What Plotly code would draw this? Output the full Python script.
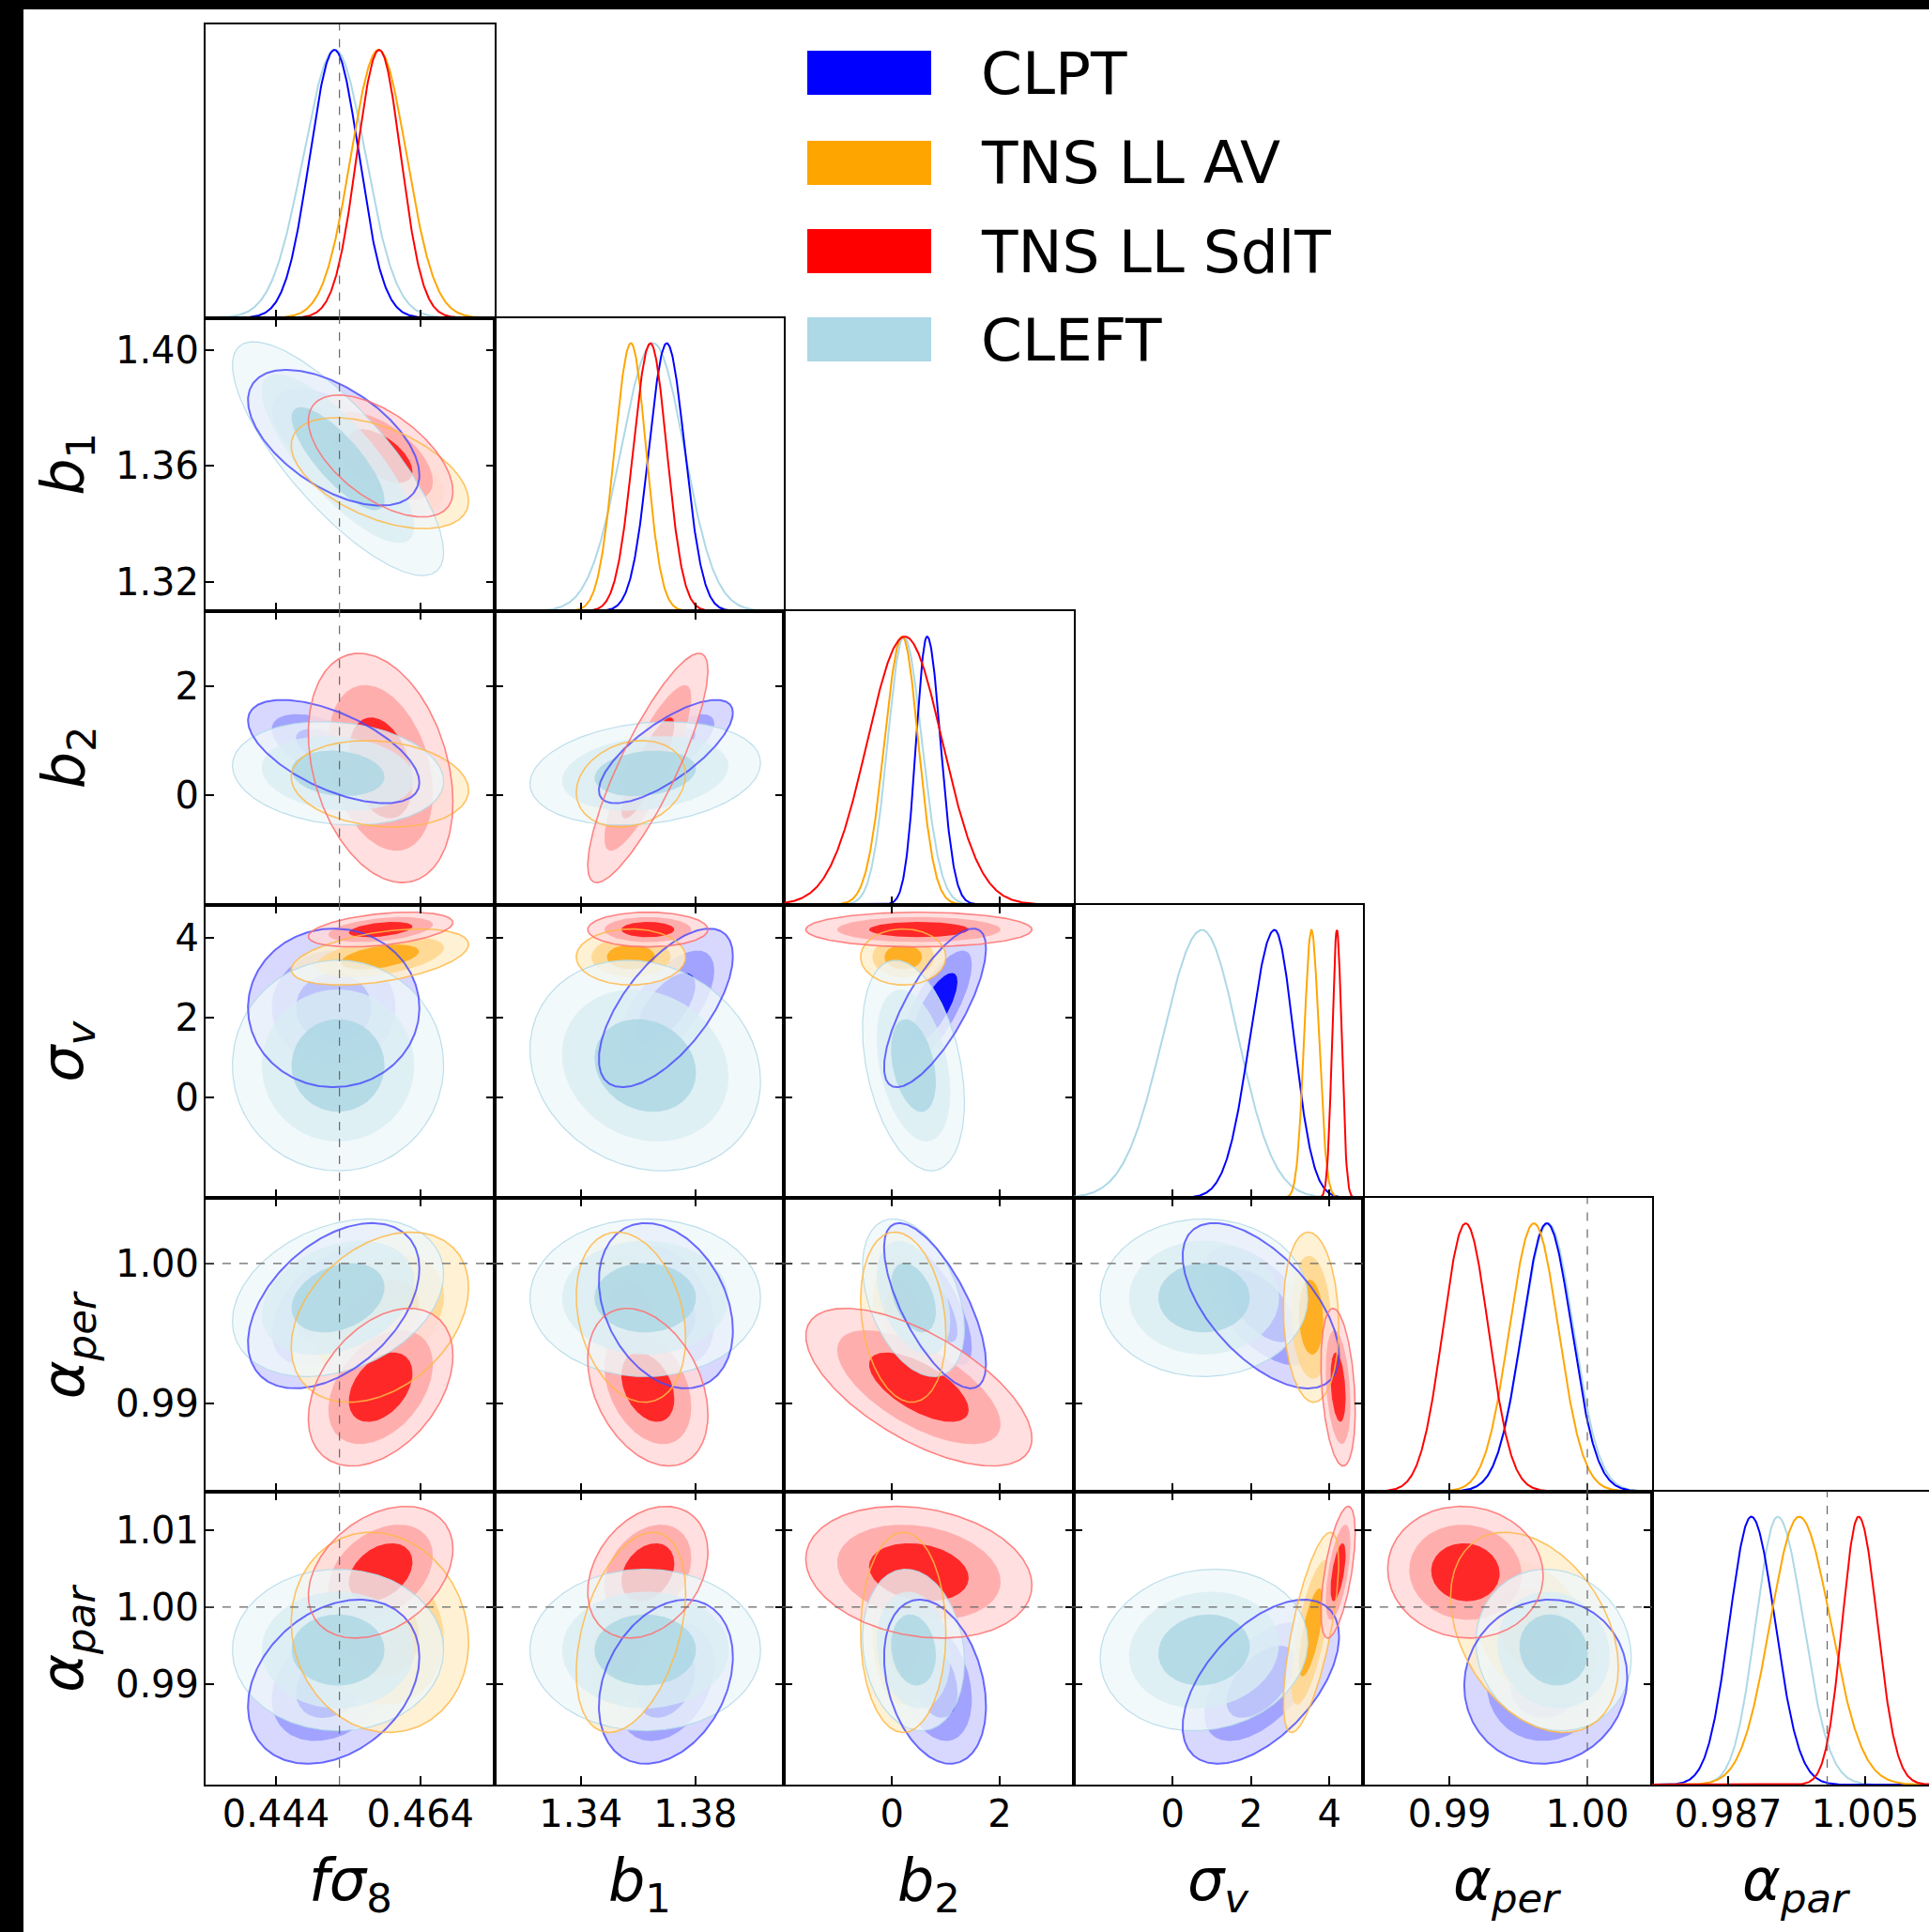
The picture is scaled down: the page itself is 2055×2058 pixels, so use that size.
import numpy as np
import plotly.graph_objects as go

# ---------------- data ----------------
MODELS = ["CLPT", "TNS LL AV", "TNS LL SdlT", "CLEFT"]
PARAMS = ["fs8", "b1", "b2", "sigv", "aper", "apar"]
PARAM_LABELS = ["<i>fσ</i><sub>8</sub>", "<i>b</i><sub>1</sub>", "<i>b</i><sub>2</sub>",
                "<i>σ<sub>v</sub></i>", "<i>α<sub>per</sub></i>", "<i>α<sub>par</sub></i>"]

AX_RANGES = [[0.43426, 0.47432], [1.3100, 1.4110], [-2.0, 3.37],
             [-2.53, 4.85], [0.9837, 1.0047], [0.9770, 1.0150]]

X_TICKVALS = [[0.444, 0.464], [1.34, 1.38], [0, 2], [0, 2, 4], [0.99, 1.00], [0.987, 1.005]]
X_TICKTEXT = [["0.444", "0.464"], ["1.34", "1.38"], ["0", "2"], ["0", "2", "4"],
              ["0.99", "1.00"], ["0.987", "1.005"]]
Y_TICKVALS = [[], [1.32, 1.36, 1.40], [0, 2], [0, 2, 4], [0.99, 1.00], [0.99, 1.00, 1.01]]
Y_TICKTEXT = [[], ["1.32", "1.36", "1.40"], ["0", "2"], ["0", "2", "4"],
              ["0.99", "1.00"], ["0.99", "1.00", "1.01"]]

TRUTH = [0.4528, None, None, None, 1.0, 1.0]

# 1D marginals (peak position, left / right widths), per model, per parameter
MU_1D = [[0.4521, 1.3700, 0.653, 2.60, 0.99706, 0.99003],
         [0.4582, 1.3575, 0.190, 3.54, 0.99612, 0.99631],
         [0.4583, 1.3643, 0.240, 4.19, 0.99117, 1.00412],
         [0.4522, 1.3653, 0.220, 0.75, 0.99715, 0.99349]]
SL_1D = [[0.0034, 0.0062, 0.205, 0.62, 0.00180, 0.00287],
         [0.0038, 0.0057, 0.330, 0.183, 0.00178, 0.00379],
         [0.0031, 0.0060, 0.700, 0.120, 0.00165, 0.00214],
         [0.0044, 0.0112, 0.300, 0.995, 0.00185, 0.00287]]
SR_1D = [[0.0034, 0.0063, 0.250, 0.49, 0.00180, 0.00313],
         [0.0039, 0.0053, 0.300, 0.190, 0.00178, 0.00413],
         [0.0030, 0.0057, 0.700, 0.120, 0.00165, 0.00247],
         [0.0042, 0.0108, 0.340, 0.915, 0.00185, 0.00339]]

# 2D contour centres and widths, per model, per parameter
MU_2D = [[0.4520, 1.3697, 0.80, 2.25, 0.99698, 0.99033],
         [0.4584, 1.3575, 0.21, 3.53, 0.99616, 0.99672],
         [0.4585, 1.3634, 0.50, 4.22, 0.99115, 1.00451],
         [0.4526, 1.3625, 0.40, 0.80, 0.99755, 0.99444]]
SIG_2D = [[0.00345, 0.0068, 0.275, 0.58, 0.00172, 0.00309],
          [0.00357, 0.00555, 0.230, 0.205, 0.00177, 0.00377],
          [0.00291, 0.0061, 0.610, 0.127, 0.00164, 0.00248],
          [0.00425, 0.0117, 0.275, 0.77, 0.00164, 0.00304]]

# correlation per parameter pair (x index, y index): [CLPT, AV, SdlT, CLEFT]
RHO = {
    (0, 1): [-0.55, -0.50, -0.58, -0.80],
    (0, 2): [-0.60, -0.15, -0.30, -0.15],
    (0, 3): [0.00, 0.45, 0.40, 0.00],
    (0, 4): [0.45, 0.35, 0.40, 0.30],
    (0, 5): [0.30, -0.10, 0.35, 0.00],
    (1, 2): [0.75, 0.20, 0.85, 0.20],
    (1, 3): [0.65, 0.00, 0.00, -0.15],
    (1, 4): [-0.30, -0.25, -0.35, 0.00],
    (1, 5): [0.30, 0.40, 0.30, 0.00],
    (2, 3): [0.75, 0.00, 0.00, -0.35],
    (2, 4): [-0.70, -0.20, -0.65, -0.40],
    (2, 5): [-0.30, 0.00, -0.20, -0.15],
    (3, 4): [-0.60, -0.10, -0.30, 0.00],
    (3, 5): [0.55, 0.70, 0.60, 0.10],
    (4, 5): [0.05, -0.35, -0.05, -0.10],
}
CONTOUR_MASS = [0.9973, 0.9545, 0.6827]   # outer -> inner

# ---------------- styles ----------------
LINE_COLORS = ["#0000ff", "#ffa500", "#ff0000", "#add8e6"]
FILL_COLORS = [
    ["rgba(212,212,255,0.9)", "rgba(156,156,255,0.9)", "rgba(0,0,255,0.92)"],
    ["rgba(255,238,204,0.85)", "rgba(255,214,140,0.85)", "rgba(255,168,20,0.88)"],
    ["rgba(255,217,217,0.85)", "rgba(255,166,166,0.85)", "rgba(255,25,25,0.9)"],
    ["rgba(238,247,250,0.78)", "rgba(218,237,243,0.78)", "rgba(170,214,228,0.8)"],
]
OUTLINE_COLORS = ["rgba(70,70,255,0.8)", "rgba(255,185,70,0.85)",
                  "rgba(255,110,110,0.85)", "rgba(180,218,232,0.9)"]
OUTLINE_WIDTHS = [2.0, 1.6, 1.6, 1.2]
FONT = "DejaVu Sans"

# ---------------- geometry (pixels) ----------------
W, H = 2055, 2058
L0, T0 = 219, 26
PW, PH = 308.2, 312.5
R0, B0 = W, T0 + 6 * PH
AW, AH = R0 - L0, B0 - T0


def px(x):
    return (x - L0) / AW


def py(y):
    return (B0 - y) / AH


def axn(n):
    return "" if n == 1 else str(n)


fig = go.Figure()
layout = {}
shapes = []
annotations = []
N = len(PARAMS)
t = np.linspace(0, 2 * np.pi, 241)
outline_queue = []

n = 0
for r in range(N):
    for c in range(r + 1):
        n += 1
        xa, ya = "x" + axn(n), "y" + axn(n)
        xl = L0 + c * PW
        xr = xl + PW
        xr_clip = min(xr, R0)
        xrng = list(AX_RANGES[c])
        if xr > R0:
            xrng[1] = xrng[0] + (xrng[1] - xrng[0]) * (xr_clip - xl) / PW
        yt = T0 + r * PH
        yb = yt + PH
        diag = (r == c)
        xaxis = dict(domain=[px(xl), px(xr_clip)], anchor=ya, range=xrng,
                     showgrid=False, zeroline=False, showline=True, linecolor="black",
                     linewidth=2, ticks="inside", ticklen=9, tickwidth=2, tickcolor="black",
                     tickvals=X_TICKVALS[c], ticktext=X_TICKTEXT[c],
                     showticklabels=(r == N - 1), ticklabelstandoff=-5,
                     tickfont=dict(family=FONT, size=40, color="black"),
                     mirror=True if diag else "allticks", fixedrange=True)
        if diag:
            yaxis = dict(domain=[py(yb), py(yt)], anchor=xa, range=[0, 1.095],
                         showgrid=False, zeroline=False, showline=True, linecolor="black",
                         linewidth=2, ticks="", showticklabels=False,
                         mirror=(c != N - 1), fixedrange=True)
        else:
            yaxis = dict(domain=[py(yb), py(yt)], anchor=xa, range=AX_RANGES[r],
                         showgrid=False, zeroline=False, showline=True, linecolor="black",
                         linewidth=2, ticks="inside", ticklen=9, tickwidth=2, tickcolor="black",
                         tickvals=Y_TICKVALS[r], ticktext=Y_TICKTEXT[r],
                         showticklabels=(c == 0), ticklabelstandoff=-3,
                         tickfont=dict(family=FONT, size=40, color="black"),
                         mirror="allticks", fixedrange=True)
        layout["xaxis" + axn(n)] = xaxis
        layout["yaxis" + axn(n)] = yaxis

        if diag:
            xs = np.linspace(AX_RANGES[c][0], AX_RANGES[c][1], 500)
            for m in [3, 0, 1, 2]:
                mu, sl, sr = MU_1D[m][c], SL_1D[m][c], SR_1D[m][c]
                s = np.where(xs < mu, sl, sr)
                ys = np.exp(-0.5 * ((xs - mu) / s) ** 2)
                fig.add_trace(go.Scatter(x=xs, y=ys, mode="lines", xaxis=xa, yaxis=ya,
                                         line=dict(color=LINE_COLORS[m], width=2.0),
                                         hoverinfo="skip", showlegend=False))
            if TRUTH[c] is not None:
                shapes.append(dict(type="line", xref=xa, yref=ya + " domain",
                                   x0=TRUTH[c], x1=TRUTH[c], y0=0, y1=1,
                                   line=dict(color="#666666", width=1.2, dash="dash"),
                                   layer="above"))
        else:
            rho_list = RHO[(c, r)]
            for m in range(4):
                mx, my = MU_2D[m][c], MU_2D[m][r]
                sx, sy = SIG_2D[m][c], SIG_2D[m][r]
                rho = rho_list[m]
                u, v = np.cos(t), np.sin(t)
                for k, mass in enumerate(CONTOUR_MASS):
                    rad = np.sqrt(-2 * np.log(1 - mass))
                    ex = mx + rad * sx * u
                    ey = my + rad * sy * (rho * u + np.sqrt(1 - rho ** 2) * v)
                    fig.add_trace(go.Scatter(x=ex, y=ey, mode="lines", fill="toself",
                                             fillcolor=FILL_COLORS[m][k],
                                             line=dict(width=0, color=FILL_COLORS[m][k]),
                                             xaxis=xa, yaxis=ya, hoverinfo="skip",
                                             showlegend=False))
                    if k == 0:
                        outline_queue.append((m, ex, ey, xa, ya))
            if TRUTH[c] is not None:
                shapes.append(dict(type="line", xref=xa, yref=ya + " domain",
                                   x0=TRUTH[c], x1=TRUTH[c], y0=0, y1=1,
                                   line=dict(color="#666666", width=1.2, dash="dash"),
                                   layer="above"))
            if TRUTH[r] is not None:
                shapes.append(dict(type="line", xref=xa + " domain", yref=ya,
                                   x0=0, x1=1, y0=TRUTH[r], y1=TRUTH[r],
                                   line=dict(color="#666666", width=1.2, dash="dash"),
                                   layer="above"))

for m_order in [3, 0, 1, 2]:
    for (m, ex, ey, xa, ya) in outline_queue:
        if m != m_order:
            continue
        fig.add_trace(go.Scatter(x=ex, y=ey, mode="lines", xaxis=xa, yaxis=ya,
                                 line=dict(color=OUTLINE_COLORS[m], width=OUTLINE_WIDTHS[m]),
                                 hoverinfo="skip", showlegend=False))

# axis titles
for c in range(N):
    cx = L0 + (c + 0.5) * PW
    annotations.append(dict(x=px(cx), y=py(2006), xref="paper", yref="paper",
                            text=PARAM_LABELS[c], showarrow=False, xanchor="center",
                            yanchor="middle", font=dict(family=FONT, size=62, color="black")))
for r in range(1, N):
    cy = T0 + (r + 0.5) * PH
    annotations.append(dict(x=px(71), y=py(cy), xref="paper", yref="paper",
                            text=PARAM_LABELS[r], showarrow=False, textangle=-90,
                            xanchor="center", yanchor="middle",
                            font=dict(family=FONT, size=62, color="black")))

# legend (patches + labels)
LEG_Y = [54, 150, 244, 338]
for m in range(4):
    y0 = LEG_Y[m]
    shapes.append(dict(type="rect", xref="paper", yref="paper",
                       x0=px(860), x1=px(992), y0=py(y0 + 47), y1=py(y0),
                       fillcolor=LINE_COLORS[m], line=dict(width=0), layer="above"))
    annotations.append(dict(x=px(1043), y=py(y0 + 24), xref="paper", yref="paper",
                            text=MODELS[m], showarrow=False, xanchor="left", yanchor="middle",
                            font=dict(family=FONT, size=63, color="black")))

# black frame of the original image
shapes.append(dict(type="rect", xref="paper", yref="paper", x0=px(-5), x1=px(25),
                   y0=py(W + 10), y1=py(-5), fillcolor="black", line=dict(width=0), layer="above"))
shapes.append(dict(type="rect", xref="paper", yref="paper", x0=px(-5), x1=px(W + 5),
                   y0=py(10), y1=py(-5), fillcolor="black", line=dict(width=0), layer="above"))

fig.update_layout(width=W, height=H, margin=dict(l=L0, r=0, t=T0, b=H - B0, pad=0),
                  paper_bgcolor="white", plot_bgcolor="rgba(0,0,0,0)", showlegend=False,
                  font=dict(family=FONT, color="black"), shapes=shapes,
                  annotations=annotations, **layout)

fig.write_html("out.html", config={"displayModeBar": False, "staticPlot": True},
               post_script="document.body.style.margin='0px';document.body.style.padding='0px';")
